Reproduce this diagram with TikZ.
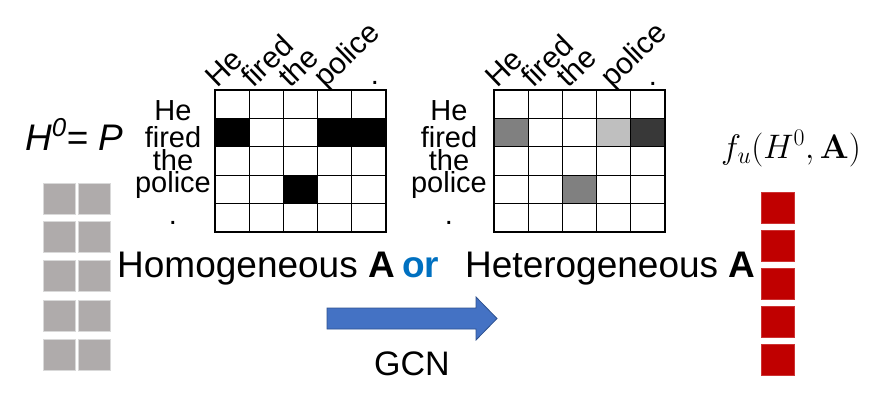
\RequirePackage{fix-cm}
\documentclass[tikz,border=0pt]{standalone}
\usepackage[no-math]{fontspec}
\setmainfont{Liberation Sans}
\usepackage{xcolor}
\definecolor{featgray}{RGB}{175,171,171}
\definecolor{outred}{RGB}{192,0,0}
\definecolor{orblue}{RGB}{0,112,192}
\definecolor{gcnblue}{RGB}{68,114,196}
\definecolor{gcnedge}{RGB}{47,82,143}

\tikzset{
  cell/.style={draw=black, line width=1.3pt},
  featsq/.style={fill=featgray, draw=black!15, line width=0.8pt},
  outsq/.style={fill=outred, draw=outred!80, line width=0.5pt},
  rowlab/.style={font=\fontsize{29}{29}\selectfont, inner sep=0pt, anchor=base},
  collab/.style={font=\fontsize{30}{30}\selectfont, inner sep=0pt, rotate=44, anchor=base west},
  biglab/.style={font=\fontsize{37}{40}\selectfont, inner sep=0pt, anchor=base west},
}

\begin{document}
\begin{tikzpicture}[x=1pt,y=-1pt]
\useasboundingbox (0,0) rectangle (874,408);

% input features H^0
\foreach \y in {183,221,260,300,339}{
  \draw[featsq] (43,\y) rectangle +(32,31);
  \draw[featsq] (78,\y) rectangle +(32,31);
}
\node[biglab] (hzero) at (25,150) {\textit{H}\textsuperscript{\textit{0}}= \textit{P}};

% homogeneous adjacency
\begin{scope}[shift={(215,90)}]
  \foreach \c/\r/\shade in {0/1/black,3/1/black,4/1/black,2/3/black}
    \fill[\shade] (34.2*\c,28.4*\r) rectangle +(34.2,28.4);
  \foreach \c in {0,...,4}
    \foreach \r in {0,...,4}
      \draw[cell] (34.2*\c,28.4*\r) rectangle +(34.2,28.4);
  \foreach \r/\w/\b in {0/He/30,1/fired/57,2/the/80,3/police/102,4/./134}
    \node[rowlab] (hom-r\r) at (-42,\b) {\w};
  \foreach \c/\w/\x in {0/He/2,1/fired/38,2/the/75,3/police/110}
    \node[collab] (hom-c\c) at (\x,-1) {\w};
  \node[rowlab] (hom-c4) at (160,-6) {.};
\end{scope}

% heterogeneous adjacency
\begin{scope}[shift={(494,90)}]
  \foreach \c/\r/\shade in {0/1/black!50,3/1/black!25,4/1/black!78,2/3/black!50}
    \fill[\shade] (34.2*\c,28.4*\r) rectangle +(34.2,28.4);
  \foreach \c in {0,...,4}
    \foreach \r in {0,...,4}
      \draw[cell] (34.2*\c,28.4*\r) rectangle +(34.2,28.4);
  \foreach \r/\w/\b in {0/He/30,1/fired/57,2/the/80,3/police/102,4/./134}
    \node[rowlab] (het-r\r) at (-45,\b) {\w};
  \foreach \c/\w/\x in {0/He/3,1/fired/39,2/the/74,3/police/118}
    \node[collab] (het-c\c) at (\x,-1) {\w};
  \node[rowlab] (het-c4) at (159,-5) {.};
\end{scope}

\node[biglab] (homlab) at (117,277) {Homogeneous \textbf{A}};
\node[biglab, text=orblue, font=\fontsize{37}{40}\selectfont\bfseries] (orlab) at (402,277) {or};
\node[biglab] (hetlab) at (465,277) {Heterogeneous \textbf{A}};

% GCN step
\draw[fill=gcnblue, draw=gcnedge, line width=0.8pt]
  (327,308) -- (476,308) -- (476,297) -- (497,318.5) -- (476,340) -- (476,329) -- (327,329) -- cycle;
\node[font=\fontsize{34}{34}\selectfont, inner sep=0pt, anchor=base] (gcnlab) at (412,375) {GCN};

% output features
\foreach \y in {192,230,268,306,344}
  \draw[outsq] (761,\y) rectangle +(33,31);
\node[inner sep=0pt, anchor=base west, font=\fontsize{34}{37}\selectfont] (fout) at (721,158) {$f_u(H^0,\mathbf{A})$};
\end{tikzpicture}
\end{document}
